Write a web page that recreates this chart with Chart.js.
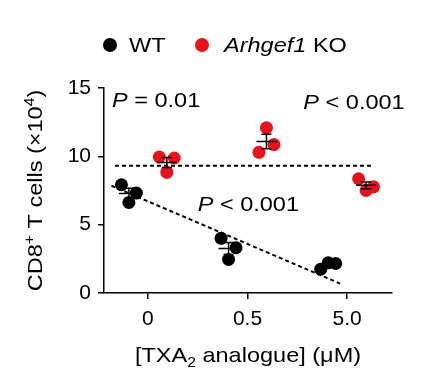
<!DOCTYPE html>
<html>
<head>
<meta charset="utf-8">
<script src="https://cdn.jsdelivr.net/npm/chart.js@4/dist/chart.umd.min.js"></script>
<style>
  html, body { margin: 0; padding: 0; background: #fff; }
  #wrap { width: 431px; height: 384px; position: relative; }
</style>
</head>
<body>
<div id="wrap"><canvas id="c" width="431" height="384"></canvas></div>
<script>
// ---- data ----
const categories = ['0', '0.5', '5.0'];
const yTicks = [0, 5, 10, 15];
const wtValues = [[7.92, 6.62, 7.31], [4.00, 2.46, 3.31], [1.74, 2.21, 2.16]];
const koValues = [[9.95, 8.82, 9.88], [10.29, 12.09, 10.86], [8.36, 7.50, 7.77]];
const wtTrendX = [-0.365, 1.93];
const wtTrendY = [7.85, 0.69];
const koTrendX = [-0.33, 2.27];
const koTrendY = [9.32, 9.32];
const seriesNames = ['WT', 'Arhgef1 KO'];
const pLabels = ['0.01', '0.001', '0.001'];

const BLACK = '#000000';
const RED = '#e8121b';
const FONT = '"Liberation Sans", Arial, Helvetica, sans-serif';
const STRETCH = 1.12;

const GROUP_OFF = 0.19;
const JITTER = 0.075;

function pointsFor(values, sign) {
  const pts = [];
  values.forEach((grp, ci) => {
    grp.forEach((v, j) => {
      pts.push({ x: ci + sign * GROUP_OFF + (j - 1) * JITTER, y: v });
    });
  });
  return pts;
}
function stats(arr) {
  const n = arr.length;
  const m = arr.reduce((a, b) => a + b, 0) / n;
  const sd = Math.sqrt(arr.reduce((a, b) => a + (b - m) * (b - m), 0) / (n - 1));
  return { m, sem: sd / Math.sqrt(n) };
}

function drawRich(ctx, segs, x, y, size) {
  ctx.save();
  let total = 0;
  const widths = segs.map(s => {
    ctx.font = (s.italic ? 'italic ' : '') + (s.small ? Math.round(size * 0.65) : size) + 'px ' + FONT;
    const w = ctx.measureText(s.t).width;
    total += w;
    return w;
  });
  ctx.translate(x - total * STRETCH / 2, y);
  ctx.scale(STRETCH, 1);
  let cx = 0;
  segs.forEach((s, i) => {
    ctx.font = (s.italic ? 'italic ' : '') + (s.small ? Math.round(size * 0.65) : size) + 'px ' + FONT;
    ctx.fillStyle = '#000';
    ctx.textBaseline = 'alphabetic';
    ctx.textAlign = 'left';
    ctx.fillText(s.t, cx, s.shift || 0);
    cx += widths[i];
  });
  ctx.restore();
}
function drawRichLeft(ctx, segs, x, y, size) {
  ctx.save();
  let total = 0;
  segs.forEach(s => {
    ctx.font = (s.italic ? 'italic ' : '') + size + 'px ' + FONT;
    total += ctx.measureText(s.t).width;
  });
  ctx.restore();
  drawRich(ctx, segs, x + total * STRETCH / 2, y, size);
}

const overlay = {
  id: 'overlay',
  afterDatasetsDraw(chart) {
    const ctx = chart.ctx;
    const xs = chart.scales.x, ys = chart.scales.y;
    // mean +- SEM bars
    ctx.save();
    ctx.strokeStyle = '#000';
    ctx.lineWidth = 1.5;
    [[wtValues, -1], [koValues, 1]].forEach(([vals, sign]) => {
      vals.forEach((grp, ci) => {
        const s = stats(grp);
        const px = xs.getPixelForValue(ci + sign * GROUP_OFF);
        const pm = ys.getPixelForValue(s.m);
        const pt = ys.getPixelForValue(s.m + s.sem);
        const pb = ys.getPixelForValue(s.m - s.sem);
        ctx.beginPath();
        ctx.moveTo(px - 10, pm); ctx.lineTo(px + 10, pm);
        ctx.moveTo(px, pt); ctx.lineTo(px, pb);
        ctx.moveTo(px - 5, pt); ctx.lineTo(px + 5, pt);
        ctx.moveTo(px - 5, pb); ctx.lineTo(px + 5, pb);
        ctx.stroke();
      });
    });
    ctx.restore();
  },
  afterDraw(chart) {
    const ctx = chart.ctx;
    const xs = chart.scales.x, ys = chart.scales.y;
    // P values
    const anchors = [[-0.36, 13.58], [1.56, 13.5], [0.50, 6.0]];
    anchors.forEach((a, i) => {
      drawRichLeft(ctx, [{ t: 'P', italic: true }, { t: (i === 0 ? ' = ' : ' < ') + pLabels[i] }],
        xs.getPixelForValue(a[0]), ys.getPixelForValue(a[1]), 21);
    });
    // legend
    ctx.save();
    ctx.fillStyle = BLACK;
    ctx.beginPath(); ctx.arc(110, 45, 7, 0, Math.PI * 2); ctx.fill();
    ctx.fillStyle = RED;
    ctx.beginPath(); ctx.arc(202, 45, 7, 0, Math.PI * 2); ctx.fill();
    ctx.restore();
    drawRichLeft(ctx, [{ t: seriesNames[0] }], 129, 52, 21);
    const parts = seriesNames[1].split(' ');
    drawRichLeft(ctx, [{ t: parts[0], italic: true }, { t: ' ' + parts[1] }], 224, 52, 21);
    // axis titles
    const cxX = (chart.chartArea.left + chart.chartArea.right) / 2;
    drawRich(ctx, [{ t: '[TXA' }, { t: '2', small: true, shift: 5 }, { t: ' analogue] (\u03BCM)' }], cxX, 362, 21);
    ctx.save();
    ctx.translate(42, (chart.chartArea.top + chart.chartArea.bottom) / 2);
    ctx.rotate(-Math.PI / 2);
    drawRich(ctx, [{ t: 'CD8' }, { t: '+', small: true, shift: -8 }, { t: ' T cells (\u00D710' }, { t: '4', small: true, shift: -8 }, { t: ')' }], 0, 0, 21);
    ctx.restore();
  }
};

const chart = new Chart(document.getElementById('c'), {
  type: 'scatter',
  data: {
    datasets: [
      { label: seriesNames[0], data: pointsFor(wtValues, -1), backgroundColor: BLACK, borderWidth: 0, pointRadius: 6.5, order: 1 },
      { label: seriesNames[1], data: pointsFor(koValues, 1), backgroundColor: RED, borderWidth: 0, pointRadius: 6.5, order: 1 },
      { type: 'line', data: wtTrendX.map((x, i) => ({ x, y: wtTrendY[i] })), borderColor: '#000', borderWidth: 2, borderDash: [4, 3], pointRadius: 0, fill: false, order: 2 },
      { type: 'line', data: koTrendX.map((x, i) => ({ x, y: koTrendY[i] })), borderColor: '#000', borderWidth: 2, borderDash: [4, 3], pointRadius: 0, fill: false, order: 2 }
    ]
  },
  options: {
    responsive: false,
    animation: false,
    layout: { padding: { top: 88, right: 39, left: 0, bottom: 0 } },
    plugins: { legend: { display: false }, tooltip: { enabled: false } },
    scales: {
      x: {
        type: 'linear', min: -0.44, max: 2.45,
        afterBuildTicks: s => { s.ticks = categories.map((c, i) => ({ value: i })); },
        afterFit: s => { s.height = 91; },
        ticks: { callback: v => categories[Math.round(v)], color: '#000', font: { family: FONT, size: 21 }, padding: 8, maxRotation: 0, autoSkip: false },
        grid: { drawOnChartArea: false, drawTicks: true, tickLength: 6, color: '#000', lineWidth: 1.5 },
        border: { display: true, color: '#000', width: 1.5 }
      },
      y: {
        min: 0, max: 15,
        afterBuildTicks: s => { s.ticks = yTicks.map(v => ({ value: v })); },
        afterFit: s => { s.width = 104; },
        ticks: { color: '#000', font: { family: FONT, size: 21 }, padding: 7 },
        grid: { drawOnChartArea: false, drawTicks: true, tickLength: 6, color: '#000', lineWidth: 1.5 },
        border: { display: true, color: '#000', width: 1.5 }
      }
    }
  },
  plugins: [overlay]
});
</script>
</body>
</html>
